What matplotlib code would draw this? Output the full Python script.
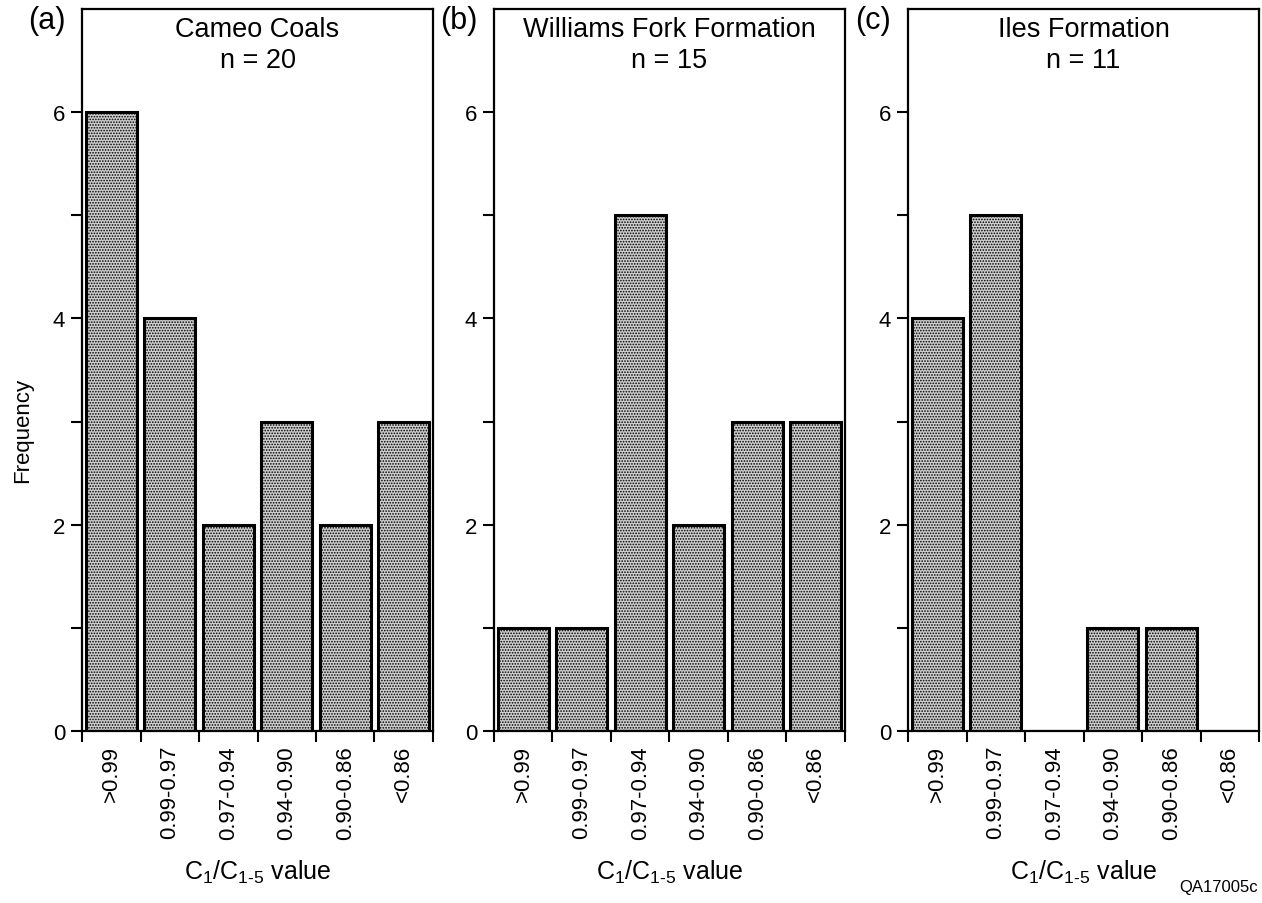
import numpy as np
import matplotlib
matplotlib.use("Agg")
import matplotlib.pyplot as plt

plt.rcParams['font.family'] = ['Liberation Sans', 'DejaVu Sans']
plt.rcParams['mathtext.fontset'] = 'custom'
plt.rcParams['mathtext.rm'] = 'Liberation Sans'
plt.rcParams['mathtext.it'] = 'Liberation Sans'
plt.rcParams['hatch.linewidth'] = 0.8

# data
categories = [">0.99", "0.99-0.97", "0.97-0.94", "0.94-0.90", "0.90-0.86", "<0.86"]
cameo = [6, 4, 2, 3, 2, 3]
williams = [1, 1, 5, 2, 3, 3]
iles = [4, 5, 0, 1, 1, 0]

panels = [("(a)", "Cameo Coals\nn = 20", cameo),
          ("(b)", "Williams Fork Formation\nn = 15", williams),
          ("(c)", "Iles Formation\nn = 11", iles)]

fig = plt.figure(figsize=(12.62, 9.04), dpi=100)
lefts = [82, 494, 908]
W, H = 1262, 904

x = np.arange(len(categories))
for i, (letter, title, vals) in enumerate(panels):
    ax = fig.add_axes([lefts[i] / W, (H - 732) / H, 351 / W, (732 - 10) / H])
    ax.bar(x, vals, width=0.875, color="#cfcfcf", edgecolor="black",
           linewidth=2.2, hatch="......", zorder=2)
    ax.set_xlim(-0.5, len(categories) - 0.5)
    ax.set_ylim(0, 7)

    ax.set_xticks(x)
    ax.set_xticklabels(categories, rotation=90, va="top", fontsize=16)
    ax.set_xticks(np.arange(len(categories) + 1) - 0.5, minor=True)
    ax.tick_params(axis="x", which="major", length=0, pad=10)
    ax.tick_params(axis="x", which="minor", length=8, width=1.5, direction="out")

    ax.set_yticks([0, 2, 4, 6])
    ax.set_yticks([1, 3, 5], minor=True)
    ax.tick_params(axis="y", which="both", length=8, width=1.5, direction="out",
                   labelsize=16, pad=4)

    for s in ax.spines.values():
        s.set_linewidth(1.6)

    ax.set_xlabel(r"C$_1$/C$_{1\text{-}5}$ value", fontsize=18, labelpad=14)
    ax.text(0.5, 0.99, title, transform=ax.transAxes, ha="center", va="top",
            fontsize=19.5, linespacing=1.25)
    ax.annotate(letter, xy=(0, 1), xycoords="axes fraction", xytext=(-12, 3),
                textcoords="offset points", ha="right", va="top", fontsize=22)
    if i == 0:
        ax.set_ylabel("Frequency", fontsize=16)
        ax.yaxis.set_label_coords(-0.14, 0.418)

fig.text(1258 / W, 1 - 888 / H, "QA17005c", ha="right", va="center", fontsize=12)

fig.savefig("out.png", dpi=100)
